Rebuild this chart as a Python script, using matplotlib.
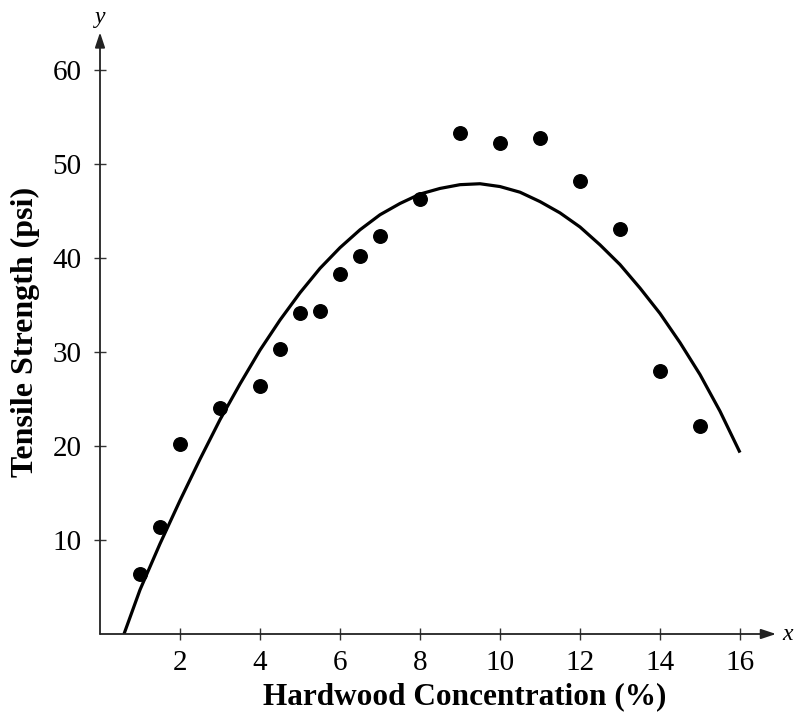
import numpy as np
import matplotlib.pyplot as plt

# Data points
conc = [1, 1.5, 2, 3, 4, 4.5, 5, 5.5, 6, 6.5, 7, 8, 9, 10, 11, 12, 13, 14, 15]
strength = [6.4, 11.4, 20.2, 24.0, 26.4, 30.3, 34.1, 34.4, 38.3, 40.2, 42.3,
            46.3, 53.3, 52.2, 52.8, 48.2, 43.1, 28.0, 22.1]

# Fitted curve
curve_x = [0.6, 1, 1.5, 2, 2.5, 3, 3.5, 4, 4.5, 5, 5.5, 6, 6.5, 7, 7.5, 8,
           8.5, 9, 9.5, 10, 10.5, 11, 11.5, 12, 12.5, 13, 13.5, 14, 14.5,
           15, 15.5, 16]
curve_y = [0, 4.7, 9.6, 14.2, 18.6, 22.8, 26.6, 30.2, 33.4, 36.3, 38.9, 41.1,
           43.0, 44.6, 45.8, 46.8, 47.4, 47.8, 47.9, 47.6, 47.0, 46.0, 44.8,
           43.3, 41.4, 39.3, 36.8, 34.1, 31.0, 27.6, 23.7, 19.3]

xticks = [2, 4, 6, 8, 10, 12, 14, 16]
yticks = [10, 20, 30, 40, 50, 60]

plt.rcParams['font.family'] = ['Liberation Serif', 'DejaVu Serif']

fig = plt.figure(figsize=(7.99, 7.16), dpi=100)
ax = fig.add_axes([100 / 799, 82 / 716, 690 / 799, 629.8 / 716])
ax.set_xlim(0, 17.25)
ax.set_ylim(0, 67)

for s in ax.spines.values():
    s.set_visible(False)

# axes with arrow heads
arrow = dict(arrowstyle='-|>,head_length=0.9,head_width=0.3',
             color='#222222', lw=1.3, shrinkA=0, shrinkB=0)
ax.annotate('', xy=(16.9, 0), xytext=(0, 0), arrowprops=arrow,
            annotation_clip=False)
ax.annotate('', xy=(0, 64.0), xytext=(0, 0), arrowprops=arrow,
            annotation_clip=False)
ax.text(17.05, 0, 'x', style='italic', fontsize=17, va='center', ha='left',
        clip_on=False)
ax.text(0, 64.5, 'y', style='italic', fontsize=17, va='bottom', ha='center',
        clip_on=False)

ax.plot(curve_x, curve_y, color='black', lw=2.3, solid_capstyle='butt')
ax.scatter(conc, strength, s=95, color='black', zorder=3)

ax.set_xticks(xticks)
ax.set_yticks(yticks)
ax.tick_params(direction='inout', length=9, width=1, color='#333333',
               labelsize=21)
ax.tick_params(axis='x', pad=7)
ax.tick_params(axis='y', pad=9)

fig.text(465 / 799, 1 - 697 / 716, 'Hardwood Concentration (%)', fontsize=22.5,
         fontweight='bold', ha='center', va='center')
fig.text(25 / 799, 1 - 332 / 716, 'Tensile Strength (psi)', fontsize=23,
         fontweight='bold', ha='center', va='center', rotation=90)

fig.savefig('out.png', dpi=100)
